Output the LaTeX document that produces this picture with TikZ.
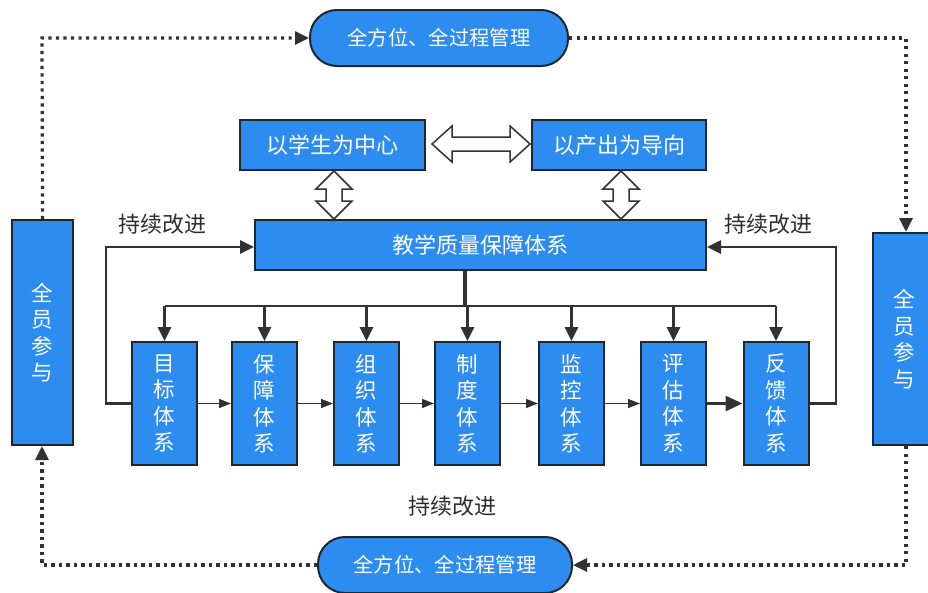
\documentclass[tikz,border=0pt]{standalone}
\usepackage{fontspec}
\setmainfont{Noto Sans CJK SC}
\usetikzlibrary{arrows.meta}
\definecolor{boxblue}{RGB}{45,140,240}
\definecolor{boxline}{RGB}{30,38,48}
\definecolor{linegray}{RGB}{50,50,50}
\definecolor{textgray}{RGB}{45,45,45}
\begin{document}
\begin{tikzpicture}[x=1pt,y=-1pt,
  bluebox/.style={draw=boxline,line width=2pt,fill=boxblue,text=white,
    font=\fontsize{22}{26.5}\selectfont,inner sep=0pt,align=center},
  vbox/.style={bluebox,font=\fontsize{21.5}{26.5}\selectfont},
  pillbox/.style={bluebox,rounded corners=27pt,font=\fontsize{20.3}{24}\selectfont},
  lbl/.style={text=textgray,font=\fontsize{22}{26}\selectfont,inner sep=0pt},
  dotline/.style={draw=linegray,line width=3.2pt,dash pattern=on 3.2pt off 4.3pt,
    -{Triangle[length=14pt,width=13pt]}},
  conn/.style={draw=linegray,line width=2.6pt},
  connarrow/.style={conn,-{Triangle[length=14pt,width=13pt]}},
  thinarrow/.style={draw=linegray,line width=1.4pt,-{Triangle[length=12pt,width=9pt]}},
  thickarrow/.style={draw=linegray,line width=3pt,-{Triangle[length=17pt,width=15pt]}},
  hollow/.style={draw=linegray,line width=1.5pt,fill=white,line join=miter}]
\useasboundingbox (0,0) rectangle (928,592);
\fill[white] (0,0) rectangle (928,592);

% pills
\node[pillbox,minimum width=258pt,minimum height=56pt] (ptop) at (439,38) {全方位、全过程管理};
\node[pillbox,minimum width=254pt,minimum height=56pt] (pbot) at (445,565) {全方位、全过程管理};

% side boxes
\node[vbox,minimum width=61pt,minimum height=225pt] (left) at (42.5,332.5) {全\\员\\参\\与};
\node[vbox,minimum width=62pt,minimum height=212pt] (right) at (904,339) {全\\员\\参\\与};

% top boxes
\node[bluebox,minimum width=185pt,minimum height=50pt] (stu) at (332.5,145) {以学生为中心};
\node[bluebox,minimum width=174pt,minimum height=50pt] (out) at (619,145) {以产出为导向};
\node[bluebox,minimum width=451pt,minimum height=50pt] (main) at (480.5,245) {教学质量保障体系};

% seven boxes
\foreach \n/\x/\t in {b1/164.5/{目\\标\\体\\系},b2/264.5/{保\\障\\体\\系},b3/366.5/{组\\织\\体\\系},
  b4/467.5/{制\\度\\体\\系},b5/571.5/{监\\控\\体\\系},b6/673.5/{评\\估\\体\\系},b7/776/{反\\馈\\体\\系}}
  \node[vbox,minimum width=65pt,minimum height=123pt] (\n) at (\x,403.5) {\t};

% labels
\node[lbl] (l1) at (162,224) {持续改进};
\node[lbl] (l2) at (768,224) {持续改进};
\node[lbl] (l3) at (452,506) {持续改进};

% dotted loop
\draw[dotline] (left.north) -- (42,38) -- (ptop.west);
\draw[dotline] (ptop.east) -- (906,38) -- (right.north -| 906,0);
\draw[dotline] (right.south -| 906,0) -- (906,565) -- (pbot.east);
\draw[dotline] (pbot.west) -- (42,565) -- (left.south -| 42,0);

% hollow double arrows
\draw[hollow] (432,144) -- (452,126) -- (452,137) -- (510,137) -- (510,126) -- (530,144)
  -- (510,162) -- (510,151) -- (452,151) -- (452,162) -- cycle;
\foreach \cx in {334,621}
  \draw[hollow] (\cx,171) -- (\cx+18,189) -- (\cx+8,189) -- (\cx+8,201) -- (\cx+18,201) -- (\cx,219)
    -- (\cx-18,201) -- (\cx-8,201) -- (\cx-8,189) -- (\cx-18,189) -- cycle;

% trunk
\coordinate (tr) at (465,306);
\draw[draw=linegray,line width=3.5pt] (main.south -| tr) -- (tr);
\draw[conn] (b1.north |- tr) -- (b7.north |- tr);
\foreach \n in {b1,b2,b3,b4,b5,b6,b7}
  \draw[connarrow] (\n.north |- tr) -- (\n.north);

% loops
\draw[connarrow] (b1.west) -- (106,403.5) -- (106,247) -- (main.west |- 0,247);
\draw[connarrow] (b7.east) -- (836,403.5) -- (836,247) -- (main.east |- 0,247);

% chain
\draw[thinarrow] (b1) -- (b2);
\draw[thinarrow] (b2) -- (b3);
\draw[thinarrow] (b3) -- (b4);
\draw[thinarrow] (b4) -- (b5);
\draw[thinarrow] (b5) -- (b6);
\draw[thickarrow] (b6) -- (b7);
\end{tikzpicture}
\end{document}
